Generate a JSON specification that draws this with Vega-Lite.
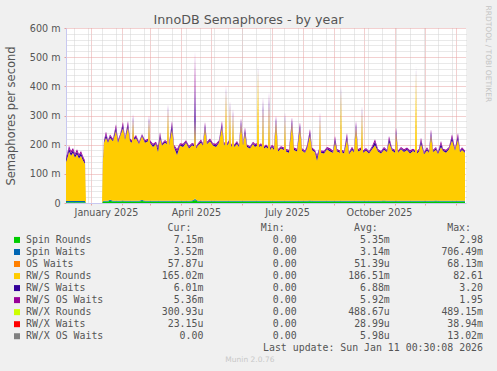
{
  "$schema": "https://vega.github.io/schema/vega-lite/v6.json",
  "width": 400,
  "height": 175,
  "autosize": {"type": "none"},
  "padding": {"left": 66, "top": 28, "right": 31, "bottom": 168},
  "background": "#f0f0f0",
  "config": {
    "view": {"fill": "#ffffff", "stroke": null},
    "font": "DejaVu Sans"
  },
  "datasets": {
    "series": [
      {"field": "sr", "name": "Spin Rounds", "idx": 1, "cur": "7.15m", "min": "0.00\u00a0", "avg": "5.35m", "max": "2.98\u00a0"},
      {"field": "sw", "name": "Spin Waits", "idx": 2, "cur": "3.52m", "min": "0.00\u00a0", "avg": "3.14m", "max": "706.49m"},
      {"field": "os", "name": "OS Waits", "idx": 3, "cur": "57.87u", "min": "0.00\u00a0", "avg": "51.39u", "max": "68.13m"},
      {"field": "rr", "name": "RW/S Rounds", "idx": 4, "cur": "165.02m", "min": "0.00\u00a0", "avg": "186.51m", "max": "82.61\u00a0"},
      {"field": "rw", "name": "RW/S Waits", "idx": 5, "cur": "6.01m", "min": "0.00\u00a0", "avg": "6.88m", "max": "3.20\u00a0"},
      {"field": "ro", "name": "RW/S OS Waits", "idx": 6, "cur": "5.36m", "min": "0.00\u00a0", "avg": "5.92m", "max": "1.95\u00a0"},
      {"field": "xr", "name": "RW/X Rounds", "idx": 7, "cur": "300.93u", "min": "0.00\u00a0", "avg": "488.67u", "max": "489.15m"},
      {"field": "xw", "name": "RW/X Waits", "idx": 8, "cur": "23.15u", "min": "0.00\u00a0", "avg": "28.99u", "max": "38.94m"},
      {"field": "xo", "name": "RW/X OS Waits", "idx": 9, "cur": "0.00\u00a0", "min": "0.00\u00a0", "avg": "5.98u", "max": "13.02m"}
    ],
    "rrd": [
      {"d": "2024-12-07", "sr": 3, "sw": 4, "rr": 134, "rw": 8, "ro": 6},
      {"d": "2024-12-09", "sr": 3, "sw": 4, "rr": 155, "rw": 12, "ro": 8},
      {"d": "2024-12-10", "sr": 3, "sw": 4, "rr": 170, "rw": 11, "ro": 8},
      {"d": "2024-12-12", "sr": 3, "sw": 4, "rr": 155, "rw": 9, "ro": 7},
      {"d": "2024-12-14", "sr": 3, "sw": 4, "rr": 165, "rw": 9, "ro": 8},
      {"d": "2024-12-16", "sr": 3, "sw": 4, "rr": 149, "rw": 8, "ro": 6},
      {"d": "2024-12-18", "sr": 3, "sw": 4, "rr": 160, "rw": 9, "ro": 8},
      {"d": "2024-12-20", "sr": 3, "sw": 4, "rr": 146, "rw": 8, "ro": 6},
      {"d": "2024-12-22", "sr": 3, "sw": 4, "rr": 155, "rw": 9, "ro": 7},
      {"d": "2024-12-24", "sr": 3, "sw": 4, "rr": 139, "rw": 8, "ro": 6},
      {"d": "2024-12-26", "sr": 3, "sw": 4, "rr": 128, "rw": 6, "ro": 5},
      {"d": "2024-12-27", "sr": 0, "sw": 0, "rr": 0, "rw": 0, "ro": 0},
      {"d": "2025-01-12", "sr": 0, "sw": 0, "rr": 0, "rw": 0, "ro": 0},
      {"d": "2025-01-13", "sr": 4, "sw": 3, "rr": 144, "rw": 5, "ro": 4},
      {"d": "2025-01-14", "sr": 5, "sw": 3, "rr": 199, "rw": 4, "ro": 4},
      {"d": "2025-01-16", "sr": 5, "sw": 3, "rr": 216, "rw": 12, "ro": 9},
      {"d": "2025-01-18", "sr": 5, "sw": 3, "rr": 199, "rw": 4, "ro": 4},
      {"d": "2025-01-20", "sr": 8, "sw": 3, "rr": 212, "rw": 7, "ro": 5},
      {"d": "2025-01-23", "sr": 5, "sw": 3, "rr": 204, "rw": 4, "ro": 4},
      {"d": "2025-01-26", "sr": 5, "sw": 3, "rr": 241, "rw": 12, "ro": 9},
      {"d": "2025-01-28", "sr": 5, "sw": 3, "rr": 199, "rw": 6, "ro": 5},
      {"d": "2025-01-30", "sr": 5, "sw": 3, "rr": 219, "rw": 4, "ro": 4},
      {"d": "2025-02-02", "sr": 6, "sw": 3, "rr": 248, "rw": 12, "ro": 9},
      {"d": "2025-02-04", "sr": 5, "sw": 3, "rr": 209, "rw": 4, "ro": 4},
      {"d": "2025-02-07", "sr": 5, "sw": 3, "rr": 252, "rw": 12, "ro": 9},
      {"d": "2025-02-09", "sr": 5, "sw": 3, "rr": 204, "rw": 5, "ro": 4},
      {"d": "2025-02-11", "sr": 5, "sw": 3, "rr": 199, "rw": 4, "ro": 4},
      {"d": "2025-02-12", "sr": 5, "sw": 3, "rr": 276, "rw": 12, "ro": 9},
      {"d": "2025-02-13", "sr": 5, "sw": 3, "rr": 209, "rw": 4, "ro": 4},
      {"d": "2025-02-15", "sr": 5, "sw": 3, "rr": 214, "rw": 6, "ro": 5},
      {"d": "2025-02-18", "sr": 5, "sw": 3, "rr": 194, "rw": 4, "ro": 4},
      {"d": "2025-02-21", "sr": 7, "sw": 3, "rr": 219, "rw": 4, "ro": 4},
      {"d": "2025-02-24", "sr": 5, "sw": 3, "rr": 199, "rw": 5, "ro": 4},
      {"d": "2025-02-27", "sr": 5, "sw": 3, "rr": 204, "rw": 4, "ro": 4},
      {"d": "2025-02-28", "sr": 5, "sw": 3, "rr": 272, "rw": 12, "ro": 9},
      {"d": "2025-03-01", "sr": 5, "sw": 3, "rr": 199, "rw": 4, "ro": 4},
      {"d": "2025-03-04", "sr": 5, "sw": 3, "rr": 184, "rw": 6, "ro": 5},
      {"d": "2025-03-07", "sr": 5, "sw": 3, "rr": 194, "rw": 4, "ro": 4},
      {"d": "2025-03-09", "sr": 5, "sw": 3, "rr": 167, "rw": 12, "ro": 8},
      {"d": "2025-03-11", "sr": 5, "sw": 3, "rr": 214, "rw": 12, "ro": 9},
      {"d": "2025-03-13", "sr": 5, "sw": 3, "rr": 189, "rw": 4, "ro": 4},
      {"d": "2025-03-16", "sr": 5, "sw": 3, "rr": 199, "rw": 5, "ro": 4},
      {"d": "2025-03-18", "sr": 5, "sw": 3, "rr": 194, "rw": 4, "ro": 4},
      {"d": "2025-03-19", "sr": 5, "sw": 3, "rr": 310, "rw": 12, "ro": 9},
      {"d": "2025-03-20", "sr": 5, "sw": 3, "rr": 189, "rw": 4, "ro": 4},
      {"d": "2025-03-23", "sr": 5, "sw": 3, "rr": 245, "rw": 18, "ro": 10},
      {"d": "2025-03-25", "sr": 5, "sw": 3, "rr": 184, "rw": 4, "ro": 4},
      {"d": "2025-03-28", "sr": 5, "sw": 3, "rr": 157, "rw": 12, "ro": 8},
      {"d": "2025-03-31", "sr": 5, "sw": 3, "rr": 189, "rw": 4, "ro": 4},
      {"d": "2025-04-03", "sr": 5, "sw": 3, "rr": 184, "rw": 6, "ro": 5},
      {"d": "2025-04-06", "sr": 5, "sw": 3, "rr": 199, "rw": 4, "ro": 4},
      {"d": "2025-04-09", "sr": 5, "sw": 3, "rr": 179, "rw": 5, "ro": 4},
      {"d": "2025-04-12", "sr": 6, "sw": 3, "rr": 189, "rw": 4, "ro": 4},
      {"d": "2025-04-14", "sr": 8, "sw": 3, "rr": 184, "rw": 4, "ro": 4},
      {"d": "2025-04-15", "sr": 12, "sw": 4, "rr": 270, "rw": 130, "ro": 104},
      {"d": "2025-04-16", "sr": 8, "sw": 3, "rr": 176, "rw": 4, "ro": 4},
      {"d": "2025-04-18", "sr": 5, "sw": 3, "rr": 189, "rw": 4, "ro": 4},
      {"d": "2025-04-21", "sr": 5, "sw": 3, "rr": 199, "rw": 6, "ro": 5},
      {"d": "2025-04-23", "sr": 5, "sw": 3, "rr": 189, "rw": 4, "ro": 4},
      {"d": "2025-04-25", "sr": 5, "sw": 3, "rr": 249, "rw": 12, "ro": 9},
      {"d": "2025-04-27", "sr": 5, "sw": 3, "rr": 194, "rw": 4, "ro": 4},
      {"d": "2025-04-30", "sr": 5, "sw": 3, "rr": 204, "rw": 5, "ro": 4},
      {"d": "2025-05-03", "sr": 5, "sw": 3, "rr": 189, "rw": 4, "ro": 4},
      {"d": "2025-05-06", "sr": 5, "sw": 3, "rr": 184, "rw": 6, "ro": 5},
      {"d": "2025-05-09", "sr": 5, "sw": 3, "rr": 199, "rw": 4, "ro": 4},
      {"d": "2025-05-12", "sr": 5, "sw": 3, "rr": 252, "rw": 12, "ro": 9},
      {"d": "2025-05-14", "sr": 5, "sw": 3, "rr": 189, "rw": 4, "ro": 4},
      {"d": "2025-05-15", "sr": 5, "sw": 3, "rr": 194, "rw": 4, "ro": 4},
      {"d": "2025-05-16", "sr": 5, "sw": 3, "rr": 373, "rw": 12, "ro": 9},
      {"d": "2025-05-17", "sr": 5, "sw": 3, "rr": 189, "rw": 4, "ro": 4},
      {"d": "2025-05-19", "sr": 5, "sw": 3, "rr": 199, "rw": 4, "ro": 4},
      {"d": "2025-05-20", "sr": 5, "sw": 3, "rr": 321, "rw": 12, "ro": 9},
      {"d": "2025-05-21", "sr": 5, "sw": 3, "rr": 184, "rw": 4, "ro": 4},
      {"d": "2025-05-22", "sr": 5, "sw": 3, "rr": 189, "rw": 4, "ro": 4},
      {"d": "2025-05-23", "sr": 5, "sw": 3, "rr": 293, "rw": 12, "ro": 9},
      {"d": "2025-05-24", "sr": 5, "sw": 3, "rr": 184, "rw": 4, "ro": 4},
      {"d": "2025-05-27", "sr": 5, "sw": 3, "rr": 194, "rw": 6, "ro": 5},
      {"d": "2025-05-29", "sr": 5, "sw": 3, "rr": 184, "rw": 4, "ro": 4},
      {"d": "2025-05-31", "sr": 5, "sw": 3, "rr": 262, "rw": 12, "ro": 9},
      {"d": "2025-06-02", "sr": 5, "sw": 3, "rr": 189, "rw": 4, "ro": 4},
      {"d": "2025-06-04", "sr": 5, "sw": 3, "rr": 231, "rw": 12, "ro": 9},
      {"d": "2025-06-06", "sr": 5, "sw": 3, "rr": 184, "rw": 5, "ro": 4},
      {"d": "2025-06-09", "sr": 5, "sw": 3, "rr": 179, "rw": 4, "ro": 4},
      {"d": "2025-06-12", "sr": 5, "sw": 3, "rr": 194, "rw": 4, "ro": 4},
      {"d": "2025-06-14", "sr": 5, "sw": 3, "rr": 184, "rw": 6, "ro": 5},
      {"d": "2025-06-16", "sr": 5, "sw": 3, "rr": 189, "rw": 4, "ro": 4},
      {"d": "2025-06-17", "sr": 5, "sw": 3, "rr": 447, "rw": 12, "ro": 9},
      {"d": "2025-06-18", "sr": 5, "sw": 3, "rr": 184, "rw": 4, "ro": 4},
      {"d": "2025-06-20", "sr": 5, "sw": 3, "rr": 189, "rw": 4, "ro": 4},
      {"d": "2025-06-21", "sr": 5, "sw": 3, "rr": 184, "rw": 4, "ro": 4},
      {"d": "2025-06-22", "sr": 5, "sw": 3, "rr": 310, "rw": 30, "ro": 15},
      {"d": "2025-06-23", "sr": 5, "sw": 3, "rr": 179, "rw": 4, "ro": 4},
      {"d": "2025-06-25", "sr": 5, "sw": 3, "rr": 184, "rw": 5, "ro": 4},
      {"d": "2025-06-27", "sr": 5, "sw": 3, "rr": 179, "rw": 4, "ro": 4},
      {"d": "2025-06-28", "sr": 5, "sw": 3, "rr": 327, "rw": 25, "ro": 20},
      {"d": "2025-06-29", "sr": 5, "sw": 3, "rr": 174, "rw": 4, "ro": 4},
      {"d": "2025-07-01", "sr": 5, "sw": 3, "rr": 184, "rw": 4, "ro": 4},
      {"d": "2025-07-03", "sr": 5, "sw": 3, "rr": 174, "rw": 6, "ro": 5},
      {"d": "2025-07-05", "sr": 5, "sw": 3, "rr": 270, "rw": 12, "ro": 9},
      {"d": "2025-07-07", "sr": 5, "sw": 3, "rr": 169, "rw": 4, "ro": 4},
      {"d": "2025-07-10", "sr": 5, "sw": 3, "rr": 179, "rw": 4, "ro": 4},
      {"d": "2025-07-13", "sr": 5, "sw": 3, "rr": 174, "rw": 4, "ro": 4},
      {"d": "2025-07-14", "sr": 5, "sw": 3, "rr": 282, "rw": 12, "ro": 9},
      {"d": "2025-07-15", "sr": 5, "sw": 3, "rr": 169, "rw": 4, "ro": 4},
      {"d": "2025-07-18", "sr": 5, "sw": 3, "rr": 164, "rw": 6, "ro": 5},
      {"d": "2025-07-21", "sr": 5, "sw": 3, "rr": 265, "rw": 12, "ro": 9},
      {"d": "2025-07-23", "sr": 5, "sw": 3, "rr": 174, "rw": 4, "ro": 4},
      {"d": "2025-07-26", "sr": 5, "sw": 3, "rr": 169, "rw": 5, "ro": 4},
      {"d": "2025-07-29", "sr": 5, "sw": 3, "rr": 248, "rw": 12, "ro": 9},
      {"d": "2025-07-31", "sr": 5, "sw": 3, "rr": 172, "rw": 4, "ro": 4},
      {"d": "2025-08-03", "sr": 5, "sw": 3, "rr": 164, "rw": 4, "ro": 4},
      {"d": "2025-08-05", "sr": 5, "sw": 3, "rr": 179, "rw": 6, "ro": 5},
      {"d": "2025-08-08", "sr": 6, "sw": 3, "rr": 224, "rw": 12, "ro": 9},
      {"d": "2025-08-10", "sr": 5, "sw": 3, "rr": 174, "rw": 4, "ro": 4},
      {"d": "2025-08-13", "sr": 5, "sw": 3, "rr": 166, "rw": 4, "ro": 4},
      {"d": "2025-08-15", "sr": 5, "sw": 3, "rr": 137, "rw": 12, "ro": 8},
      {"d": "2025-08-17", "sr": 5, "sw": 3, "rr": 169, "rw": 4, "ro": 4},
      {"d": "2025-08-18", "sr": 5, "sw": 3, "rr": 282, "rw": 12, "ro": 9},
      {"d": "2025-08-19", "sr": 5, "sw": 3, "rr": 164, "rw": 4, "ro": 4},
      {"d": "2025-08-22", "sr": 5, "sw": 3, "rr": 162, "rw": 5, "ro": 4},
      {"d": "2025-08-25", "sr": 5, "sw": 3, "rr": 176, "rw": 4, "ro": 4},
      {"d": "2025-08-28", "sr": 5, "sw": 3, "rr": 169, "rw": 6, "ro": 5},
      {"d": "2025-08-31", "sr": 5, "sw": 3, "rr": 164, "rw": 4, "ro": 4},
      {"d": "2025-09-02", "sr": 5, "sw": 3, "rr": 201, "rw": 12, "ro": 9},
      {"d": "2025-09-04", "sr": 5, "sw": 3, "rr": 169, "rw": 4, "ro": 4},
      {"d": "2025-09-07", "sr": 5, "sw": 3, "rr": 164, "rw": 4, "ro": 4},
      {"d": "2025-09-08", "sr": 5, "sw": 3, "rr": 373, "rw": 12, "ro": 9},
      {"d": "2025-09-09", "sr": 5, "sw": 3, "rr": 166, "rw": 4, "ro": 4},
      {"d": "2025-09-11", "sr": 5, "sw": 3, "rr": 162, "rw": 5, "ro": 4},
      {"d": "2025-09-14", "sr": 5, "sw": 3, "rr": 211, "rw": 12, "ro": 9},
      {"d": "2025-09-16", "sr": 5, "sw": 3, "rr": 159, "rw": 4, "ro": 4},
      {"d": "2025-09-19", "sr": 5, "sw": 3, "rr": 174, "rw": 6, "ro": 5},
      {"d": "2025-09-21", "sr": 5, "sw": 3, "rr": 166, "rw": 4, "ro": 4},
      {"d": "2025-09-23", "sr": 5, "sw": 3, "rr": 252, "rw": 12, "ro": 9},
      {"d": "2025-09-25", "sr": 5, "sw": 3, "rr": 169, "rw": 4, "ro": 4},
      {"d": "2025-09-28", "sr": 5, "sw": 3, "rr": 174, "rw": 4, "ro": 4},
      {"d": "2025-09-29", "sr": 5, "sw": 3, "rr": 304, "rw": 12, "ro": 9},
      {"d": "2025-09-30", "sr": 5, "sw": 3, "rr": 164, "rw": 4, "ro": 4},
      {"d": "2025-10-03", "sr": 5, "sw": 3, "rr": 172, "rw": 5, "ro": 4},
      {"d": "2025-10-06", "sr": 5, "sw": 3, "rr": 162, "rw": 4, "ro": 4},
      {"d": "2025-10-09", "sr": 5, "sw": 3, "rr": 176, "rw": 6, "ro": 5},
      {"d": "2025-10-12", "sr": 5, "sw": 3, "rr": 190, "rw": 12, "ro": 9},
      {"d": "2025-10-15", "sr": 5, "sw": 3, "rr": 169, "rw": 4, "ro": 4},
      {"d": "2025-10-18", "sr": 5, "sw": 3, "rr": 162, "rw": 4, "ro": 4},
      {"d": "2025-10-21", "sr": 6, "sw": 3, "rr": 174, "rw": 5, "ro": 4},
      {"d": "2025-10-24", "sr": 5, "sw": 3, "rr": 167, "rw": 4, "ro": 4},
      {"d": "2025-10-26", "sr": 5, "sw": 3, "rr": 201, "rw": 12, "ro": 9},
      {"d": "2025-10-29", "sr": 5, "sw": 3, "rr": 172, "rw": 4, "ro": 4},
      {"d": "2025-11-01", "sr": 5, "sw": 3, "rr": 164, "rw": 6, "ro": 5},
      {"d": "2025-11-02", "sr": 5, "sw": 3, "rr": 231, "rw": 12, "ro": 9},
      {"d": "2025-11-04", "sr": 5, "sw": 3, "rr": 164, "rw": 4, "ro": 4},
      {"d": "2025-11-07", "sr": 5, "sw": 3, "rr": 176, "rw": 4, "ro": 4},
      {"d": "2025-11-10", "sr": 5, "sw": 3, "rr": 167, "rw": 5, "ro": 4},
      {"d": "2025-11-13", "sr": 5, "sw": 3, "rr": 174, "rw": 4, "ro": 4},
      {"d": "2025-11-16", "sr": 5, "sw": 3, "rr": 162, "rw": 6, "ro": 5},
      {"d": "2025-11-19", "sr": 5, "sw": 3, "rr": 170, "rw": 4, "ro": 4},
      {"d": "2025-11-21", "sr": 5, "sw": 3, "rr": 166, "rw": 4, "ro": 4},
      {"d": "2025-11-22", "sr": 5, "sw": 3, "rr": 441, "rw": 12, "ro": 9},
      {"d": "2025-11-23", "sr": 5, "sw": 3, "rr": 162, "rw": 4, "ro": 4},
      {"d": "2025-11-25", "sr": 5, "sw": 3, "rr": 169, "rw": 5, "ro": 4},
      {"d": "2025-11-27", "sr": 5, "sw": 3, "rr": 195, "rw": 12, "ro": 9},
      {"d": "2025-11-30", "sr": 5, "sw": 3, "rr": 159, "rw": 4, "ro": 4},
      {"d": "2025-12-03", "sr": 5, "sw": 3, "rr": 172, "rw": 6, "ro": 5},
      {"d": "2025-12-05", "sr": 5, "sw": 3, "rr": 164, "rw": 4, "ro": 4},
      {"d": "2025-12-07", "sr": 5, "sw": 3, "rr": 224, "rw": 12, "ro": 9},
      {"d": "2025-12-09", "sr": 5, "sw": 3, "rr": 167, "rw": 4, "ro": 4},
      {"d": "2025-12-12", "sr": 6, "sw": 3, "rr": 174, "rw": 5, "ro": 4},
      {"d": "2025-12-14", "sr": 5, "sw": 3, "rr": 160, "rw": 4, "ro": 4},
      {"d": "2025-12-17", "sr": 5, "sw": 3, "rr": 184, "rw": 12, "ro": 9},
      {"d": "2025-12-19", "sr": 5, "sw": 3, "rr": 170, "rw": 4, "ro": 4},
      {"d": "2025-12-22", "sr": 5, "sw": 3, "rr": 164, "rw": 6, "ro": 5},
      {"d": "2025-12-25", "sr": 5, "sw": 3, "rr": 176, "rw": 4, "ro": 4},
      {"d": "2025-12-28", "sr": 5, "sw": 3, "rr": 207, "rw": 12, "ro": 9},
      {"d": "2025-12-31", "sr": 5, "sw": 3, "rr": 172, "rw": 4, "ro": 4},
      {"d": "2026-01-03", "sr": 5, "sw": 3, "rr": 211, "rw": 12, "ro": 9},
      {"d": "2026-01-05", "sr": 5, "sw": 3, "rr": 166, "rw": 4, "ro": 4},
      {"d": "2026-01-07", "sr": 5, "sw": 3, "rr": 174, "rw": 5, "ro": 4},
      {"d": "2026-01-10", "sr": 5, "sw": 3, "rr": 164, "rw": 4, "ro": 4}
    ]
  },
  "layer": [
    {
      "data": {"name": "rrd"},
      "transform": [
        {"fold": ["sr", "sw", "rr", "rw", "ro"], "as": ["key", "value"]},
        {"lookup": "key", "from": {"data": {"name": "series"}, "key": "field", "fields": ["idx"]}}
      ],
      "layer": [
        {
          "mark": {"type": "area", "clip": true, "interpolate": "linear"},
          "encoding": {
            "x": {
              "field": "d", "type": "temporal",
              "scale": {"type": "utc", "domain": [{"year": 2024, "month": 12, "date": 7, "utc": true}, {"year": 2026, "month": 1, "date": 11, "utc": true}]},
              "axis": {
                "orient": "bottom",
                "values": [
                  {"year": 2025, "month": 1, "date": 1, "utc": true},
                  {"year": 2025, "month": 2, "date": 1, "utc": true},
                  {"year": 2025, "month": 3, "date": 1, "utc": true},
                  {"year": 2025, "month": 4, "date": 1, "utc": true},
                  {"year": 2025, "month": 5, "date": 1, "utc": true},
                  {"year": 2025, "month": 6, "date": 1, "utc": true},
                  {"year": 2025, "month": 7, "date": 1, "utc": true},
                  {"year": 2025, "month": 8, "date": 1, "utc": true},
                  {"year": 2025, "month": 9, "date": 1, "utc": true},
                  {"year": 2025, "month": 10, "date": 1, "utc": true},
                  {"year": 2025, "month": 11, "date": 1, "utc": true},
                  {"year": 2025, "month": 12, "date": 1, "utc": true},
                  {"year": 2026, "month": 1, "date": 1, "utc": true}
                ],
                "grid": true, "gridColor": "#e6a0a0", "gridDash": [1, 1], "gridOpacity": 1,
                "ticks": true, "tickSize": 2, "tickColor": "#e6a0a0",
                "domain": true, "domainColor": "#c8c8f0",
                "labelExpr": "utcmonth(datum.value) % 3 == 0 && utcyear(datum.value) == 2025 ? utcFormat(datum.value, '%B %Y') : ''",
                "labelOffset": 15, "labelOverlap": false, "labelPadding": 2.7,
                "labelFont": "DejaVu Sans", "labelFontSize": 9.6, "labelColor": "#555555",
                "title": null
              }
            },
            "y": {
              "field": "value", "type": "quantitative", "stack": "zero",
              "scale": {"domain": [0, 600], "nice": false},
              "axis": {
                "orient": "left",
                "values": [0, 100, 200, 300, 400, 500, 600],
                "grid": true, "gridColor": "#e6a0a0", "gridDash": [1, 1], "gridOpacity": 1,
                "ticks": true, "tickSize": 2, "tickColor": "#e6a0a0",
                "domain": true, "domainColor": "#c8c8f0",
                "labelExpr": "datum.value == 0 ? '0' : datum.value + ' m'",
                "labelFont": "DejaVu Sans", "labelFontSize": 9.6, "labelColor": "#555555", "labelPadding": 4,
                "title": "Semaphores per second", "titleFont": "DejaVu Sans", "titleFontSize": 11.5,
                "titleFontWeight": "normal", "titleColor": "#555555", "titleX": -55, "titleBaseline": "middle"
              }
            },
            "color": {
              "field": "key", "type": "nominal",
              "scale": {"domain": ["sr", "sw", "os", "rr", "rw", "ro", "xr", "xw", "xo"], "range": ["#00cc00", "#0066b3", "#ff8000", "#ffcc00", "#330099", "#990099", "#ccff00", "#ff0000", "#808080"]},
              "legend": null
            },
            "order": {"field": "idx", "type": "quantitative"}
          }
        },
        {
          "mark": {"type": "point", "opacity": 0},
          "encoding": {
            "x": {
              "field": "d", "type": "temporal",
              "scale": {"type": "utc", "domain": [{"year": 2024, "month": 12, "date": 7, "utc": true}, {"year": 2026, "month": 1, "date": 11, "utc": true}]},
              "axis": {
                "orient": "top",
                "values": [
                  {"year": 2024, "month": 12, "date": 15, "utc": true},
                  {"year": 2024, "month": 12, "date": 29, "utc": true},
                  {"year": 2025, "month": 1, "date": 12, "utc": true},
                  {"year": 2025, "month": 1, "date": 26, "utc": true},
                  {"year": 2025, "month": 2, "date": 9, "utc": true},
                  {"year": 2025, "month": 2, "date": 23, "utc": true},
                  {"year": 2025, "month": 3, "date": 9, "utc": true},
                  {"year": 2025, "month": 3, "date": 23, "utc": true},
                  {"year": 2025, "month": 4, "date": 6, "utc": true},
                  {"year": 2025, "month": 4, "date": 20, "utc": true},
                  {"year": 2025, "month": 5, "date": 4, "utc": true},
                  {"year": 2025, "month": 5, "date": 18, "utc": true},
                  {"year": 2025, "month": 6, "date": 1, "utc": true},
                  {"year": 2025, "month": 6, "date": 15, "utc": true},
                  {"year": 2025, "month": 6, "date": 29, "utc": true},
                  {"year": 2025, "month": 7, "date": 13, "utc": true},
                  {"year": 2025, "month": 7, "date": 27, "utc": true},
                  {"year": 2025, "month": 8, "date": 10, "utc": true},
                  {"year": 2025, "month": 8, "date": 24, "utc": true},
                  {"year": 2025, "month": 9, "date": 7, "utc": true},
                  {"year": 2025, "month": 9, "date": 21, "utc": true},
                  {"year": 2025, "month": 10, "date": 5, "utc": true},
                  {"year": 2025, "month": 10, "date": 19, "utc": true},
                  {"year": 2025, "month": 11, "date": 2, "utc": true},
                  {"year": 2025, "month": 11, "date": 16, "utc": true},
                  {"year": 2025, "month": 11, "date": 30, "utc": true},
                  {"year": 2025, "month": 12, "date": 14, "utc": true},
                  {"year": 2025, "month": 12, "date": 28, "utc": true}
                ],
                "grid": true, "gridColor": "#d2d2d2", "gridDash": [1, 1], "gridOpacity": 1,
                "ticks": false, "labels": false, "domain": false,
                "title": "InnoDB Semaphores - by year", "titleFont": "DejaVu Sans", "titleFontSize": 12.7,
                "titleFontWeight": "normal", "titleColor": "#555555",
                "titleX": 182, "titleY": -4.7, "titleAlign": "center", "titleBaseline": "alphabetic"
              }
            },
            "y": {
              "field": "value", "type": "quantitative",
              "scale": {"domain": [0, 600], "nice": false},
              "axis": {
                "orient": "right",
                "values": [20, 40, 60, 80, 120, 140, 160, 180, 220, 240, 260, 280, 320, 340, 360, 380, 420, 440, 460, 480, 520, 540, 560, 580],
                "grid": true, "gridColor": "#d2d2d2", "gridDash": [1, 1], "gridOpacity": 1,
                "ticks": false, "labels": false, "domain": false,
                "title": "RRDTOOL / TOBI OETIKER", "titleFont": "DejaVu Sans", "titleFontSize": 7.5,
                "titleFontWeight": "normal", "titleColor": "#c4c4c4", "titleAngle": 90,
                "titleX": 21, "titleY": -23, "titleAlign": "left", "titleBaseline": "middle"
              }
            }
          }
        }
      ],
      "resolve": {"axis": {"x": "independent", "y": "independent"}}
    },
    {
      "data": {"name": "series"},
      "layer": [
        {
          "mark": {"type": "square", "size": 36, "filled": true, "opacity": 1},
          "encoding": {
            "x": {"datum": "sw", "type": "nominal", "scale": {"type": "point", "domain": ["sw", "lab", "cur", "min", "avg", "max"], "range": [-49, 417], "padding": 0}, "axis": null},
            "y": {"field": "field", "type": "nominal", "scale": {"type": "point", "domain": ["hdr", "sr", "sw", "os", "rr", "rw", "ro", "xr", "xw", "xo", "upd", "munin"], "range": [199.9, 332.3], "padding": 0}, "axis": null},
            "color": {
              "field": "field", "type": "nominal",
              "scale": {"domain": ["sr", "sw", "os", "rr", "rw", "ro", "xr", "xw", "xo"], "range": ["#00cc00", "#0066b3", "#ff8000", "#ffcc00", "#330099", "#990099", "#ccff00", "#ff0000", "#808080"]},
              "legend": null
            }
          }
        },
        {
          "mark": {"type": "text", "align": "left", "baseline": "middle", "dx": 9, "font": "DejaVu Sans Mono", "fontSize": 9.9, "color": "#555555"},
          "encoding": {
            "x": {"datum": "sw", "type": "nominal"},
            "y": {"field": "field", "type": "nominal"},
            "text": {"field": "name"}
          }
        },
        {
          "transform": [{"fold": ["cur", "min", "avg", "max"], "as": ["col", "txt"]}],
          "mark": {"type": "text", "align": "right", "baseline": "middle", "font": "DejaVu Sans Mono", "fontSize": 9.9, "color": "#555555"},
          "encoding": {
            "x": {"field": "col", "type": "nominal"},
            "y": {"field": "field", "type": "nominal"},
            "text": {"field": "txt"}
          }
        },
        {
          "data": {"values": [{"col": "cur", "h": "Cur:"}, {"col": "min", "h": "Min:"}, {"col": "avg", "h": "Avg:"}, {"col": "max", "h": "Max:"}]},
          "mark": {"type": "text", "align": "right", "baseline": "middle", "dx": -12, "font": "DejaVu Sans Mono", "fontSize": 9.9, "color": "#555555"},
          "encoding": {
            "x": {"field": "col", "type": "nominal"},
            "y": {"datum": "hdr", "type": "nominal"},
            "text": {"field": "h"}
          }
        },
        {
          "data": {"values": [{"t": "Last update: Sun Jan 11 00:30:08 2026"}]},
          "mark": {"type": "text", "align": "right", "baseline": "middle", "font": "DejaVu Sans Mono", "fontSize": 9.9, "color": "#555555"},
          "encoding": {
            "x": {"datum": "max", "type": "nominal"},
            "y": {"datum": "upd", "type": "nominal"},
            "text": {"field": "t"}
          }
        },
        {
          "data": {"values": [{"t": "Munin 2.0.76"}]},
          "mark": {"type": "text", "align": "center", "baseline": "middle", "dx": 46.5, "font": "DejaVu Sans", "fontSize": 7.5, "color": "#c8c8c8"},
          "encoding": {
            "x": {"datum": "cur", "type": "nominal"},
            "y": {"datum": "munin", "type": "nominal"},
            "text": {"field": "t"}
          }
        }
      ]
    }
  ],
  "resolve": {"scale": {"x": "independent", "y": "independent"}}
}
